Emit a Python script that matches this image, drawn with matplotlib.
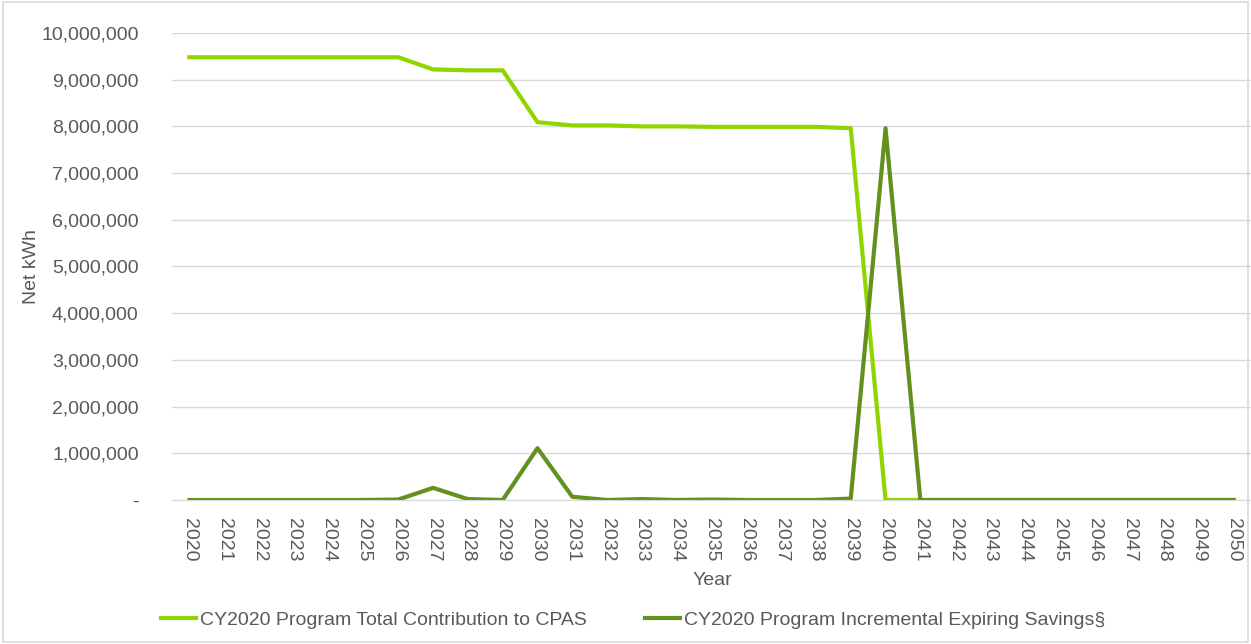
import matplotlib.pyplot as plt
from matplotlib.ticker import FuncFormatter
from matplotlib.patches import Rectangle

years = list(range(2020, 2051))
total_contribution = [9480000, 9480000, 9480000, 9480000, 9480000, 9480000, 9480000,
                      9220000, 9200000, 9200000, 8090000, 8020000, 8020000, 8000000,
                      8000000, 7990000, 7990000, 7990000, 7990000, 7960000,
                      0, 0, 0, 0, 0, 0, 0, 0, 0, 0, 0]
expiring_savings = [0, 0, 0, 0, 0, 0, 10000, 260000, 20000, 0, 1110000, 70000, 0,
                    20000, 0, 10000, 0, 0, 0, 30000, 7960000,
                    0, 0, 0, 0, 0, 0, 0, 0, 0, 0]

plt.rcParams['font.family'] = ['Liberation Sans', 'DejaVu Sans']
text_color = '#595959'

fig = plt.figure(figsize=(12.51, 6.44), dpi=100)
fig.patches.append(Rectangle((0.002, 0.003), 0.996, 0.994, transform=fig.transFigure,
                             fill=False, edgecolor='#d9d9d9', linewidth=1.2))
ax = fig.add_axes([0.1375, 0.2236, 0.8625, 0.7252])

x = list(range(len(years)))
ax.plot(x, total_contribution, color='#92d400', linewidth=3,
        label='CY2020 Program Total Contribution to CPAS')
ax.plot(x, expiring_savings, color='#64901e', linewidth=3,
        label='CY2020 Program Incremental Expiring Savings§')

ax.set_xlim(-0.5, len(years) - 0.5)
ax.set_ylim(0, 10000000)
ax.set_yticks(range(0, 10000001, 1000000))
ax.yaxis.set_major_formatter(FuncFormatter(lambda v, p: '-' if v == 0 else f'{int(v):,}'))
ax.set_xticks(x)
ax.set_xticklabels([str(y) for y in years], rotation=-90)

ax.grid(axis='y', color='#d9d9d9', linewidth=1)
ax.set_axisbelow(True)
for s in ['top', 'right', 'left']:
    ax.spines[s].set_visible(False)
ax.spines['bottom'].set_color('#d9d9d9')
ax.tick_params(axis='both', length=0, colors=text_color, labelsize=14)
ax.tick_params(axis='y', pad=24)
ax.tick_params(axis='x', pad=13)

ax.set_xlabel('Year', color=text_color, fontsize=14)
ax.xaxis.set_label_coords(0.501, -0.155)
ax.set_ylabel('Net kWh', color=text_color, fontsize=14)
ax.yaxis.set_label_coords(-0.122, 0.5)

ax.legend(loc='center', bbox_to_anchor=(0.427, -0.257), ncol=2, frameon=False,
          fontsize=14, labelcolor=text_color, handlelength=1.8, handletextpad=0.2,
          columnspacing=3.0)

fig.savefig('out.png', dpi=100)
